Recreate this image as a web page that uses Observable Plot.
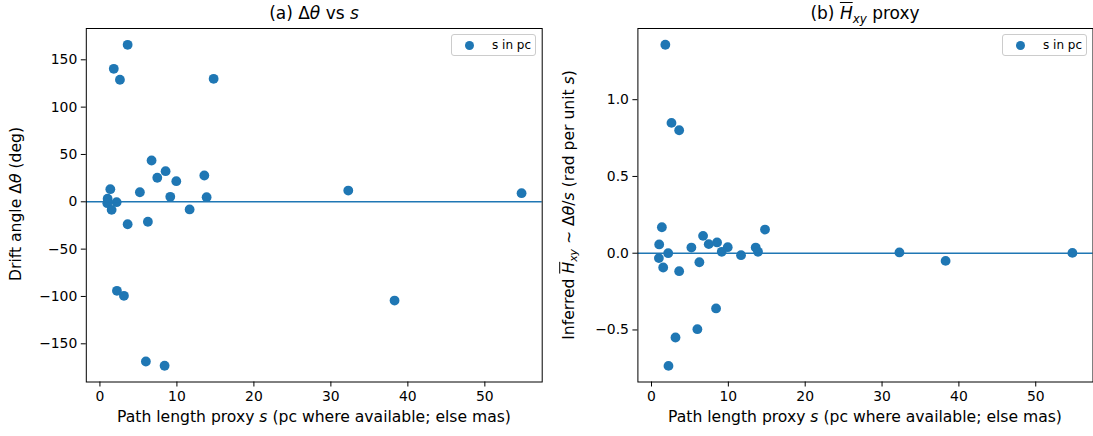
<!DOCTYPE html>
<html>
<head>
<meta charset="utf-8">
<script src="https://cdn.jsdelivr.net/npm/d3@7"></script>
<script src="https://cdn.jsdelivr.net/npm/@observablehq/plot@0.6"></script>
<style>
  body { margin: 0; background: #fff; font-family: "DejaVu Sans", sans-serif; color: #000; }
  #fig { position: relative; width: 1093px; height: 436px; overflow: hidden; background: #fff; }
  .panel { position: absolute; top: 0; }
  .ttl { position: absolute; top: 5px; font-size: 17px; line-height: 1; white-space: nowrap; transform: translateX(-50%); }
  .xlab { position: absolute; top: 410px; font-size: 15.6px; line-height: 1; white-space: nowrap; transform: translateX(-50%); }
  .ylab { position: absolute; font-size: 15.6px; line-height: 1; white-space: nowrap; transform: translate(-50%, -50%) rotate(-90deg); }
  .leg { position: absolute; top: 34px; height: 22px; width: 85px; box-sizing: border-box; border: 1px solid #cccccc; border-radius: 3px; background: rgba(255,255,255,0.8); }
  .leg .mk { position: absolute; left: 13px; top: 6px; width: 9px; height: 9px; border-radius: 50%; background: #1f77b4; }
  .leg .tx { position: absolute; left: 40px; top: 3px; font-size: 12px; line-height: 1.2; white-space: nowrap; }
  i { font-style: italic; }
  .ov { text-decoration: overline; }
  sub { font-size: 70%; vertical-align: -0.3em; line-height: 0; }
</style>
</head>
<body>
<div id="fig">
  <div class="panel" id="pa" style="left:0px"></div>
  <div class="panel" id="pb" style="left:550px"></div>
  <div class="ttl" style="left:314px">(a) Δ<i>θ</i> vs <i>s</i></div>
  <div class="ttl" style="left:865px">(b) <i class="ov">H</i><sub><i>xy</i></sub> proxy</div>
  <div class="xlab" style="left:314px">Path length proxy <i>s</i> (pc where available; else mas)</div>
  <div class="xlab" style="left:865px">Path length proxy <i>s</i> (pc where available; else mas)</div>
  <div class="ylab" style="left:17px; top:204px">Drift angle Δ<i>θ</i> (deg)</div>
  <div class="ylab" style="left:570px; top:205px">Inferred <i class="ov">H</i><sub><i>xy</i></sub> ~ Δ<i>θ</i>/<i>s</i> (rad per unit <i>s</i>)</div>
  <div class="leg" style="left:451px"><div class="mk"></div><div class="tx">s in pc</div></div>
  <div class="leg" style="left:1002px"><div class="mk"></div><div class="tx">s in pc</div></div>
</div>
<script>
// Path length proxy s (shared by both panels)
const s = [3.6, 1.8, 2.6, 14.77, 6.71, 7.45, 8.53, 9.92, 13.56, 1.35, 5.19, 9.14, 13.86, 1.0, 0.96, 2.17, 1.52, 11.65, 3.6, 6.23, 2.21, 3.12, 5.97, 8.4, 32.26, 38.27, 54.77];
// Panel (a): drift angle Δθ in degrees
const dtheta = [165.8, 140.5, 128.9, 129.9, 43.6, 25.4, 32.3, 21.8, 27.8, 13.3, 10.1, 5.3, 4.9, 3.2, -1.5, -0.4, -8.5, -8.1, -23.7, -21.1, -94, -99.3, -168.7, -173.2, 11.9, -104.3, 9.1];
// Panel (b): inferred H_xy proxy (rad per unit s)
const hxy = [0.801, 1.358, 0.849, 0.154, 0.113, 0.059, 0.070, 0.039, 0.037, 0.169, 0.037, 0.009, 0.009, 0.057, -0.032, 0.0, -0.093, -0.013, -0.117, -0.059, -0.734, -0.549, -0.495, -0.360, 0.005, -0.05, 0.002];
// Tick labels
const xTicks = [0, 10, 20, 30, 40, 50];
const yTicksA = [-150, -100, -50, 0, 50, 100, 150];
const yTicksB = [-0.5, 0.0, 0.5, 1.0];

const blue = "#1f77b4";
const xDomain = [-1.77, 57.45];

function panel(yvals, yDomain, yTicks, yFmt, width, mLeft, mRight) {
  const data = s.map((v, i) => ({s: v, y: yvals[i]}));
  return Plot.plot({
    width, height: 436,
    marginLeft: mLeft, marginRight: mRight, marginTop: 28, marginBottom: 54.5,
    style: {fontFamily: "DejaVu Sans", fontSize: "13.9px", color: "#000", background: "transparent", overflow: "visible"},
    x: {domain: xDomain},
    y: {domain: yDomain},
    marks: [
      Plot.dot(data, {x: "s", y: "y", r: 4.9, fill: blue, stroke: null}),
      Plot.ruleY([0], {stroke: blue, strokeWidth: 1.4}),
      Plot.frame({stroke: "#000", strokeWidth: 1}),
      Plot.axisX({ticks: xTicks, tickSize: 5, tickPadding: 4, tickFormat: d3.format("d"), label: null, strokeWidth: 1}),
      Plot.axisY({ticks: yTicks, tickSize: 5, tickPadding: 4, tickFormat: yFmt, label: null, strokeWidth: 1})
    ]
  });
}

document.getElementById("pa").append(
  panel(dtheta, [-190.35, 183.06], yTicksA, d3.format("d"), 550, 85.8, 8.3)
);
document.getElementById("pb").append(
  panel(hxy, [-0.839, 1.4638], yTicksB, d3.format(".1f"), 543, 87.4, 0.5)
);
</script>
</body>
</html>
